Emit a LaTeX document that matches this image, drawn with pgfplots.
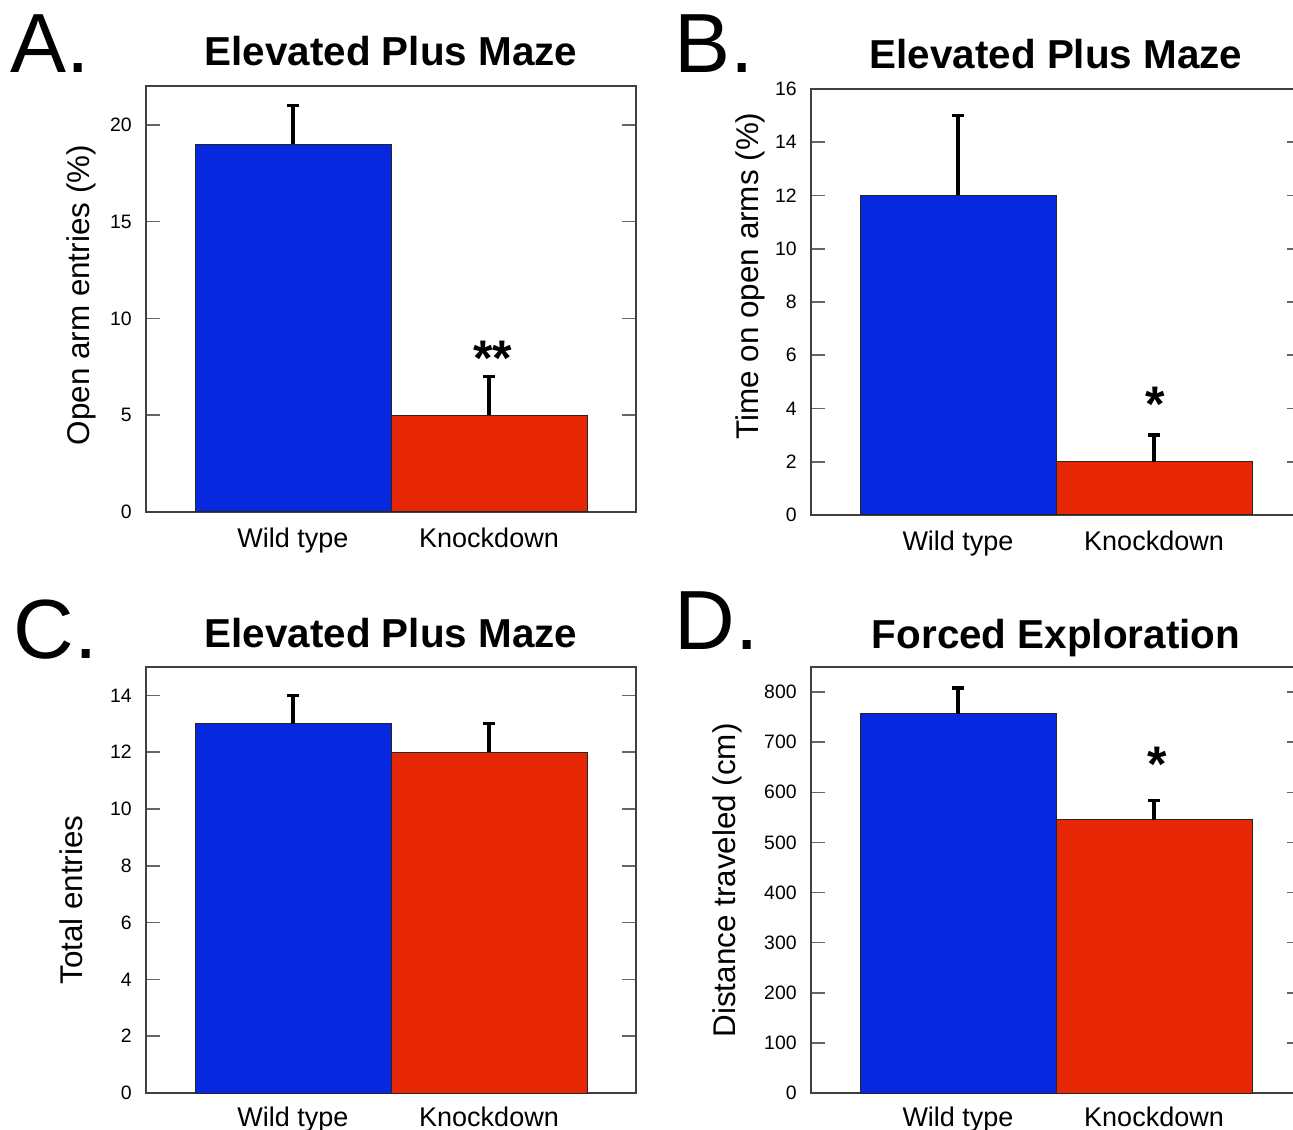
\documentclass[border=0pt]{standalone}
\usepackage{fontspec}
\setmainfont{Liberation Sans}
\usepackage{pgfplots}
\pgfplotsset{compat=1.18}

\definecolor{wtblue}{RGB}{8,40,224}
\definecolor{kdred}{RGB}{230,38,4}

\tikzset{sigstar/.style={font=\fontsize{25}{30}\selectfont\bfseries, anchor=base, inner sep=0pt}}

\pgfplotsset{
  panel/.style={
    scale only axis, width=245pt, height=213pt,
    anchor=south west,
    xmin=-0.75, xmax=1.75, ymin=0,
    xtick={0,1}, xticklabels={Wild type,Knockdown},
    xtick style={draw=none},
    tick align=inside,
    major tick length=7pt,
    ytick style={black!60, line width=0.8pt},
    axis line style={black!75, line width=0.6pt},
    /pgf/number format/assume math mode=true,
    yticklabel style={font=\fontsize{9.7}{11}\selectfont, inner sep=0pt, xshift=-7pt},
    xticklabel style={font=\fontsize{13.5}{16}\selectfont, anchor=base, yshift=-11pt},
    title style={font=\fontsize{20.2}{24}\selectfont\bfseries, at={(0.5,1)}, anchor=base, yshift=4pt},
    ylabel style={font=\fontsize{15.7}{18}\selectfont, anchor=base},
    ybar, bar width=1, bar shift=0pt,
  },
  wt/.style={fill=wtblue, draw=black!85, line width=0.5pt,
    error bars/.cd, y dir=plus, y explicit,
    error bar style={line width=1.65pt, black},
    error mark options={rotate=90, line width=1.65pt, mark size=3pt, black}},
  kd/.style={fill=kdred, draw=black!85, line width=0.5pt,
    error bars/.cd, y dir=plus, y explicit,
    error bar style={line width=1.65pt, black},
    error mark options={rotate=90, line width=1.65pt, mark size=3pt, black}},
}

\begin{document}
\begin{tikzpicture}

% A: open arm entries
\begin{axis}[panel, at={(73pt,308.5pt)},
  ymax=22, ytick={0,5,10,15,20},
  title={Elevated Plus Maze},
  ylabel={Open arm entries (\%)},
  ylabel style={at={(axis description cs:-0.1143,0.509)}}]
\addplot[wt] coordinates {(0,19) +- (0,2)};
\addplot[kd] coordinates {(1,5) +- (0,2)};
\node[sigstar] at (axis cs:1.02,7.03) {**};
\end{axis}

% B: time on open arms
\begin{axis}[panel, at={(405.5pt,307pt)},
  ymax=16, ytick={0,2,...,16},
  title={Elevated Plus Maze},
  ylabel={Time on open arms (\%)},
  ylabel style={at={(axis description cs:-0.108,0.561)}}]
\addplot[wt] coordinates {(0,12) +- (0,3)};
\addplot[kd] coordinates {(1,2) +- (0,1)};
\node[sigstar] at (axis cs:1.008,3.53) {*};
\end{axis}

% C: total entries
\begin{axis}[panel, at={(73pt,18pt)},
  ymax=15, ytick={0,2,...,14},
  title={Elevated Plus Maze},
  title style={yshift=-0.5pt},
  xticklabel style={yshift=1.5pt},
  ylabel={Total entries},
  ylabel style={at={(axis description cs:-0.1286,0.453)}}]
\addplot[wt] coordinates {(0,13) +- (0,1)};
\addplot[kd] coordinates {(1,12) +- (0,1)};
\end{axis}

% D: forced exploration
\begin{axis}[panel, at={(405.5pt,18pt)},
  ymax=850, ytick={0,100,...,800},
  title={Forced Exploration},
  title style={yshift=-0.5pt},
  xticklabel style={yshift=1.5pt},
  ylabel={Distance traveled (cm)},
  ylabel style={at={(axis description cs:-0.155,0.499)}}]
\addplot[wt] coordinates {(0,757) +- (0,51)};
\addplot[kd] coordinates {(1,545) +- (0,39)};
\node[sigstar] at (axis cs:1.015,621) {*};
\end{axis}

\node[font=\fontsize{42}{48}\selectfont, anchor=base west, inner sep=0pt] at (5pt,528pt) {A.};
\node[font=\fontsize{42}{48}\selectfont, anchor=base west, inner sep=0pt] at (337pt,528pt) {B.};
\node[font=\fontsize{42}{48}\selectfont, anchor=base west, inner sep=0pt] at (6.5pt,235pt) {C.};
\node[font=\fontsize{42}{48}\selectfont, anchor=base west, inner sep=0pt] at (337pt,239.5pt) {D.};

\pgfresetboundingbox
\useasboundingbox (0pt,0pt) rectangle (646.5pt,564.5pt);
\end{tikzpicture}
\end{document}
